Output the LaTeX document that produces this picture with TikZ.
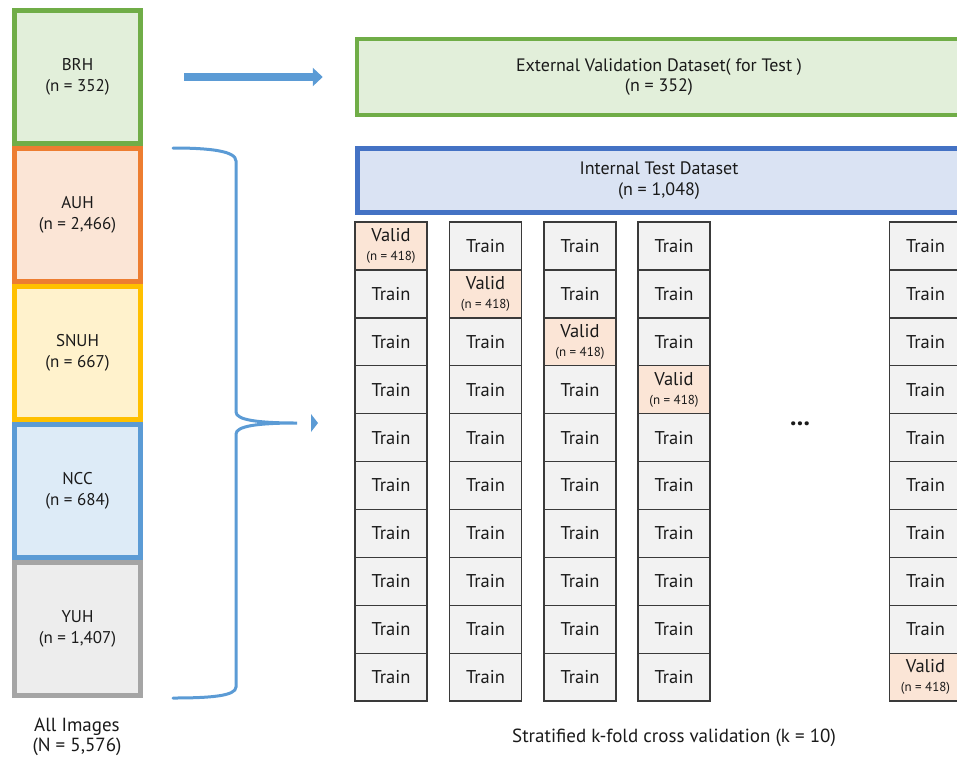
\documentclass[tikz,border=0pt]{standalone}
\usepackage{fontspec}
\setmainfont{PT Sans}
\usetikzlibrary{arrows.meta,calc}

\definecolor{grnB}{HTML}{70AD47}\definecolor{grnF}{HTML}{E2EFDA}
\definecolor{orgB}{HTML}{ED7D31}\definecolor{orgF}{HTML}{FBE5D6}
\definecolor{ylwB}{HTML}{FFC000}\definecolor{ylwF}{HTML}{FFF2CC}
\definecolor{bluB}{HTML}{5B9BD5}\definecolor{bluF}{HTML}{DDEBF7}
\definecolor{gryB}{HTML}{A5A5A5}\definecolor{gryF}{HTML}{EDEDED}
\definecolor{intB}{HTML}{4472C4}\definecolor{intF}{HTML}{DAE3F3}
\definecolor{cellF}{HTML}{F2F2F2}\definecolor{cellB}{HTML}{3A3A3A}
\definecolor{arrowC}{HTML}{5B9BD5}
\definecolor{txt}{HTML}{1A1A1A}

\tikzset{
  site/.style={draw=#1B, fill=#1F, line width=5pt, minimum width=126pt,
    minimum height=133pt, inner sep=0pt, align=center, text=txt,
    font=\fontsize{17}{20.5}\selectfont},
  bigbox/.style={line width=4.5pt, inner sep=0pt, align=center, text=txt,
    font=\fontsize{18}{20.5}\selectfont},
  cell/.style={draw=cellB, fill=cellF, line width=1.3pt, minimum width=72pt,
    minimum height=47.9pt, inner sep=0pt, align=center, text=txt,
    font=\fontsize{18.5}{19}\selectfont},
  validcell/.style={cell, fill=orgF},
  caption/.style={align=center, text=txt, font=\fontsize{19}{20}\selectfont},
  bluearrow/.style={draw=arrowC, line width=8pt,
    -{Triangle[length=10pt,width=18pt]}},
  bracepath/.style={draw=arrowC, line width=3pt, line cap=round}
}

\newcommand{\validtext}{Valid\\[0pt]{\fontsize{13}{13}\selectfont (n = 418)}}

\begin{document}
\begin{tikzpicture}[x=1pt,y=-1pt]
\useasboundingbox (0,0) rectangle (957,758);
\clip (0,0) rectangle (957,758);

% source sites
\node[site=grn] (brh)  at (77.5, 77)  {BRH\\(n = 352)};
\node[site=org] (auh)  at (77.5, 215) {AUH\\(n = 2,466)};
\node[site=ylw] (snuh) at (77.5, 353) {SNUH\\(n = 667)};
\node[site=blu] (ncc)  at (77.5, 491) {NCC\\(n = 684)};
\node[site=gry] (yuh)  at (77.5, 629) {YUH\\(n = 1,407)};
\node[caption] (all) at (77, 737) {All Images\\(N = 5,576)};

% external and internal test sets
\node[bigbox, draw=grnB, fill=grnF, minimum width=604pt, minimum height=76pt]
  (ext) at (659, 77) {External Validation Dataset( for Test )\\(n = 352)};
\node[bigbox, draw=intB, fill=intF, line width=5pt, minimum width=603pt,
  minimum height=64pt] (int) at (659, 180.5) {Internal Test Dataset\\(n = 1,048)};

% arrow from BRH to the external set
\draw[bluearrow] ([xshift=41pt]brh.east) -- ([xshift=-32pt]ext.west);

% k-fold columns
\foreach \col/\cx/\vr in {1/391/1, 2/485.5/2, 3/580/3, 4/674/4, 10/925.5/10} {
  \foreach \r in {1,...,10} {
    \pgfmathsetmacro{\cy}{246+47.9*(\r-1)}
    \ifnum\r=\vr
      \node[validcell] (c-\col-\r) at (\cx, \cy) {\validtext};
    \else
      \node[cell] (c-\col-\r) at (\cx, \cy) {Train};
    \fi
  }
}
\node[text=txt, font=\fontsize{26}{26}\selectfont\bfseries] (dots) at (800, 424) {...};

\node[caption] (kfold) at (674, 738) {Stratified k-fold cross validation (k = 10)};

% brace gathering the internal sites
\coordinate (bt) at (173, 148);
\coordinate (bb) at (173, 698);
\coordinate (tip) at (297, 423);
\draw[bracepath] (bt) .. controls (210,148) and (236,151) .. (236,161)
  -- (236,412) .. controls (236,420) and (258,423) .. (tip)
  .. controls (258,423) and (236,426) .. (236,434)
  -- (236,687) .. controls (236,696) and (210,698) .. (bb);
\fill[arrowC] ($(tip)+(14,-9)$) -- ($(tip)+(21,0)$) -- ($(tip)+(14,9)$) -- cycle;
\end{tikzpicture}
\end{document}
